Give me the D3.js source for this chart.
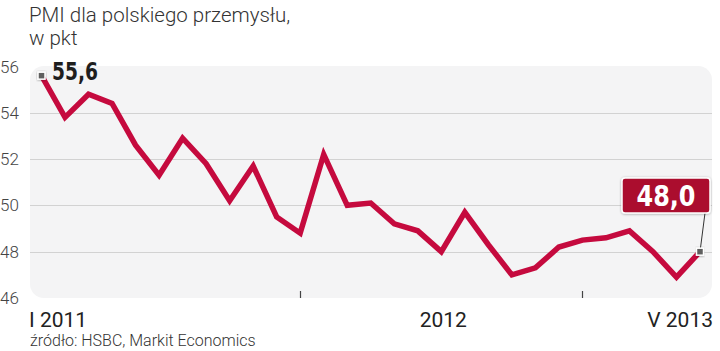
<!DOCTYPE html>
<html>
<head>
<meta charset="utf-8">
<script src="https://cdn.jsdelivr.net/npm/d3@7"></script>
<style>
    body { margin: 0; background: #fff; }
    svg { display: block; }
    .title { font-family: Roboto, sans-serif; font-weight: 300; font-size: 20.5px; fill: #333; }
    .y-label { font-family: Roboto, sans-serif; font-weight: 300; font-size: 17px; fill: #444; }
    .x-label { font-family: Roboto, sans-serif; font-weight: 400; font-size: 21px; fill: #222; }
    .source { font-family: Roboto, sans-serif; font-weight: 300; font-size: 16px; fill: #333; }
</style>
</head>
<body>
<div id="chart"></div>
<script>
// PMI for Polish industry, monthly I 2011 - V 2013

const months = [
    "I 2011", "II 2011", "III 2011", "IV 2011", "V 2011", "VI 2011", "VII 2011", "VIII 2011", "IX 2011", "X 2011", "XI 2011", "XII 2011",
    "I 2012", "II 2012", "III 2012", "IV 2012", "V 2012", "VI 2012", "VII 2012", "VIII 2012", "IX 2012", "X 2012", "XI 2012", "XII 2012",
    "I 2013", "II 2013", "III 2013", "IV 2013", "V 2013"
];
const pmiValues = [
    55.6, 53.8, 54.8, 54.4, 52.6, 51.3, 52.9, 51.8, 50.2, 51.7, 49.5, 48.8,
    52.2, 50.0, 50.1, 49.2, 48.9, 48.0, 49.7, 48.3, 47.0, 47.3, 48.2, 48.5,
    48.6, 48.9, 48.0, 46.9, 48.0
];
const yTicks = [46, 48, 50, 52, 54, 56];
const yearTickMonths = ["XII 2011", "XII 2012"];
const xLabels = [
    { month: "I 2011", text: "I 2011", anchor: "start" },
    { month: "VI 2012", text: "2012", anchor: "middle" },
    { month: "V 2013", text: "V 2013", anchor: "end" }
];

const width = 720, height = 351;
const panel = { left: 30, right: 712, top: 66, bottom: 298 };
const lineColor = "#c50a3e";

const svg = d3.select("#chart").append("svg")
    .attr("width", width)
    .attr("height", height);

const defs = svg.append("defs");
const shadow = defs.append("filter").attr("id", "shadow")
    .attr("x", "-20%").attr("y", "-20%").attr("width", "140%").attr("height", "160%");
shadow.append("feDropShadow")
    .attr("dx", 0).attr("dy", 0.5).attr("stdDeviation", 1)
    .attr("flood-color", "#000").attr("flood-opacity", 0.35);

const x = d3.scalePoint()
    .domain(months)
    .range([41.5, 700]);

const y = d3.scaleLinear()
    .domain([46, 56])
    .range([panel.bottom, panel.top + 0.4]);

// title
svg.append("text").attr("class", "title").attr("x", 29).attr("y", 22).text("PMI dla polskiego przemysłu,");
svg.append("text").attr("class", "title").attr("x", 29).attr("y", 45).text("w pkt");

// background panel
svg.append("rect")
    .attr("x", panel.left)
    .attr("y", panel.top)
    .attr("width", panel.right - panel.left)
    .attr("height", panel.bottom - panel.top)
    .attr("rx", 14)
    .attr("fill", "#f4f4f5");

// grid
svg.append("g").selectAll("line")
    .data(yTicks.filter(d => d > 46 && d < 56))
    .enter()
    .append("line")
    .attr("x1", panel.left)
    .attr("x2", panel.right)
    .attr("y1", d => Math.round(y(d)) + 0.5)
    .attr("y2", d => Math.round(y(d)) + 0.5)
    .attr("stroke", "#d2d2d2")
    .attr("stroke-width", 1);

// y labels
svg.append("g").selectAll("text")
    .data(yTicks)
    .enter()
    .append("text")
    .attr("class", "y-label")
    .attr("x", 0)
    .attr("y", d => y(d))
    .attr("dy", "0.36em")
    .text(d => d);

// year separators
svg.append("g").selectAll("line")
    .data(yearTickMonths)
    .enter()
    .append("line")
    .attr("x1", d => Math.round(x(d)) + 0.5)
    .attr("x2", d => Math.round(x(d)) + 0.5)
    .attr("y1", panel.bottom - 7)
    .attr("y2", panel.bottom)
    .attr("stroke", "#444")
    .attr("stroke-width", 1.2);

// x labels
svg.append("g").selectAll("text")
    .data(xLabels)
    .enter()
    .append("text")
    .attr("class", "x-label")
    .attr("x", d => d.anchor === "start" ? 29 : d.anchor === "end" ? 713 : x(d.month) + 2)
    .attr("y", 327)
    .attr("text-anchor", d => d.anchor)
    .text(d => d.text);

svg.append("text").attr("class", "source").attr("x", 30).attr("y", 346)
    .text("źródło: HSBC, Markit Economics");

// the line
const line = d3.line()
    .x((d, i) => x(months[i]))
    .y(d => y(d));

svg.append("path")
    .datum(pmiValues)
    .attr("d", line)
    .attr("fill", "none")
    .attr("stroke", lineColor)
    .attr("stroke-width", 5.5)
    .attr("stroke-linejoin", "miter")
    .attr("stroke-linecap", "butt");

const first = pmiValues[0];
const last = pmiValues[pmiValues.length - 1];
const fx = x(months[0]), fy = y(first);
const lx = x(months[months.length - 1]), ly = y(last);

// leader line for last value
const boxX = 622, boxY = 178, boxW = 88, boxH = 35;
svg.append("line")
    .attr("x1", boxX + boxW - 5).attr("y1", boxY + boxH)
    .attr("x2", lx).attr("y2", ly)
    .attr("stroke", "#333")
    .attr("stroke-width", 1);

// markers
svg.append("g").selectAll("rect")
    .data([[fx, fy], [lx, ly]])
    .enter()
    .append("rect")
    .attr("x", d => d[0] - 3.5)
    .attr("y", d => d[1] - 3.5)
    .attr("width", 7)
    .attr("height", 7)
    .attr("fill", "#5e5e5e")
    .attr("stroke", "#fff")
    .attr("stroke-width", 1.5)
    .attr("filter", "url(#shadow)");

const fmt = v => d3.format(".1f")(v).replace(".", ",");

// first value label
svg.append("text")
    .attr("x", 52)
    .attr("y", 80)
    .attr("font-family", "'Liberation Sans Narrow', 'DejaVu Sans Condensed', sans-serif")
    .attr("font-weight", 700)
    .attr("font-size", 24)
    .attr("textLength", 46)
    .attr("lengthAdjust", "spacingAndGlyphs")
    .attr("fill", "#1e1e1e")
    .text(fmt(first));

// last value box
svg.append("rect")
    .attr("x", boxX)
    .attr("y", boxY)
    .attr("width", boxW)
    .attr("height", boxH)
    .attr("rx", 3)
    .attr("fill", "#ab0f2e")
    .attr("stroke", "#fff")
    .attr("stroke-width", 1.5)
    .attr("filter", "url(#shadow)");

svg.append("text")
    .attr("x", boxX + boxW / 2)
    .attr("y", 206)
    .attr("text-anchor", "middle")
    .attr("font-family", "'Liberation Sans Narrow', 'DejaVu Sans Condensed', sans-serif")
    .attr("font-weight", 700)
    .attr("font-size", 29)
    .attr("textLength", 59)
    .attr("lengthAdjust", "spacingAndGlyphs")
    .attr("fill", "#fff")
    .text(fmt(last));
</script>
</body>
</html>
